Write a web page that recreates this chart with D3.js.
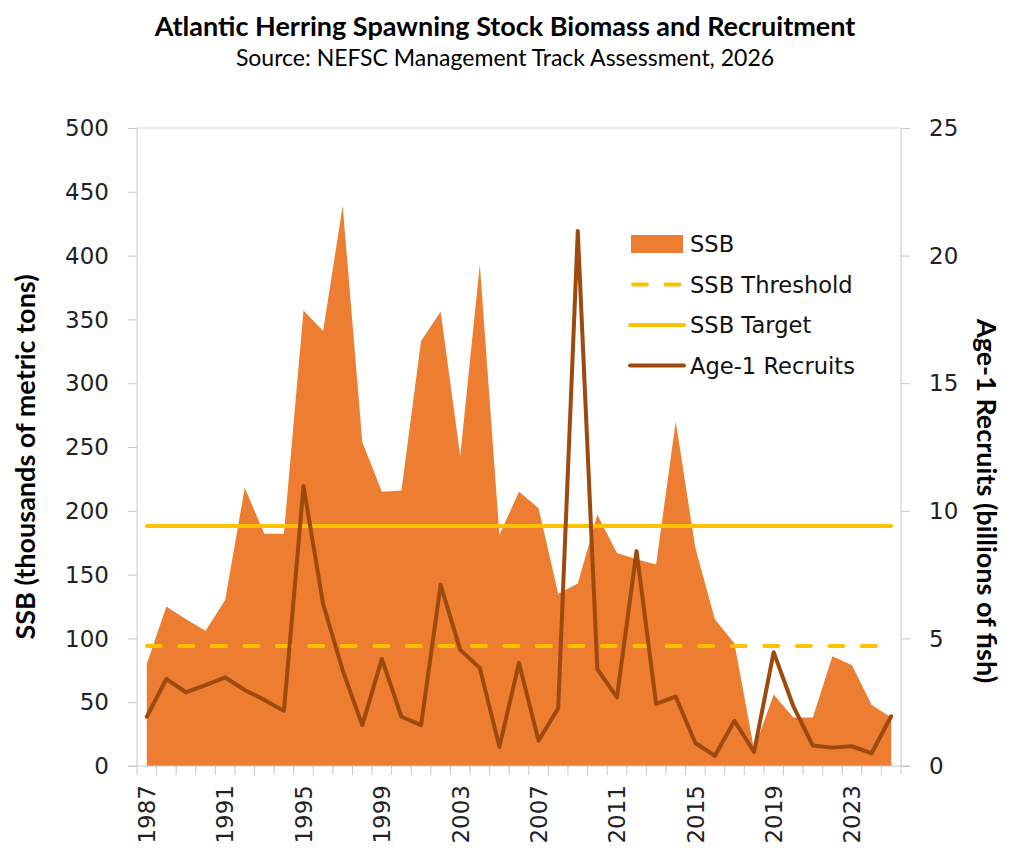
<!DOCTYPE html>
<html>
<head>
<meta charset="utf-8">
<script src="https://cdn.jsdelivr.net/npm/d3@7"></script>
<style>
  body { margin: 0; background: #fff; }
  svg { display: block; }
  .axis path, .axis line { stroke: #c8c8c8; }
  .tickLabel { font-family: "DejaVu Sans", Verdana, sans-serif; font-size: 23px; fill: #222; }
  .legendText { font-family: "DejaVu Sans", Verdana, sans-serif; font-size: 22.6px; fill: #111; }
  .chartTitle { font-family: Lato, "Open Sans", sans-serif; font-weight: bold; font-size: 27px; fill: #000; }
  .chartSub { font-family: Lato, "Open Sans", sans-serif; font-size: 23px; fill: #000; }
  .axisTitle { font-family: Lato, "Open Sans", sans-serif; font-weight: bold; font-size: 27px; fill: #000; }
</style>
</head>
<body>
<script>
(function(){

  //chart data
  var years = [1987, 1988, 1989, 1990, 1991, 1992, 1993, 1994, 1995, 1996,
               1997, 1998, 1999, 2000, 2001, 2002, 2003, 2004, 2005, 2006,
               2007, 2008, 2009, 2010, 2011, 2012, 2013, 2014, 2015, 2016,
               2017, 2018, 2019, 2020, 2021, 2022, 2023, 2024, 2025];
  //spawning stock biomass, thousands of metric tons
  var ssb = [80, 125, 115, 106, 130, 218, 182, 182, 357, 341,
             439, 254, 215, 216, 333, 356, 243, 393, 181, 215,
             202, 135, 143, 197, 167, 162, 158, 270, 171, 115,
             96, 13, 56, 38, 38, 86, 79, 48, 38];
  //age-1 recruits, billions of fish
  var recruits = [1.93, 3.41, 2.89, 3.17, 3.47, 2.98, 2.59, 2.16, 10.97, 6.35,
                  3.75, 1.6, 4.2, 1.93, 1.6, 7.1, 4.55, 3.84, 0.75, 4.04,
                  0.99, 2.26, 20.96, 3.8, 2.69, 8.42, 2.43, 2.72, 0.9, 0.4,
                  1.77, 0.55, 4.46, 2.35, 0.8, 0.72, 0.77, 0.5, 1.95];
  var ssbThreshold = 94;
  var ssbTarget = 188;
  var xTickYears = [1987, 1991, 1995, 1999, 2003, 2007, 2011, 2015, 2019, 2023];
  var leftTicks = [0, 50, 100, 150, 200, 250, 300, 350, 400, 450, 500];
  var rightTicks = [0, 5, 10, 15, 20, 25];
  var legendLabels = ["SSB", "SSB Threshold", "SSB Target", "Age-1 Recruits"];

  var width = 1013, height = 858;
  var left = 137, right = 901, top = 128, bottom = 766;

  var svg = d3.select("body").append("svg")
    .attr("width", width)
    .attr("height", height);

  //scales
  var x = d3.scaleBand().domain(years).range([left, right]).padding(0);
  var cx = function(yr){ return x(yr) + x.bandwidth() / 2; };
  var yL = d3.scaleLinear().domain([0, 500]).range([bottom, top]);
  var yR = d3.scaleLinear().domain([0, 25]).range([bottom, top]);

  var rows = years.map(function(yr, i){
    return { year: yr, ssb: ssb[i], rec: recruits[i] };
  });

  //top border of plot area
  svg.append("line")
    .attr("x1", left).attr("x2", right)
    .attr("y1", yL(500)).attr("y2", yL(500))
    .attr("stroke", "#d9d9d9").attr("stroke-width", 1);

  //SSB area
  var area = d3.area()
    .x(function(d){ return cx(d.year); })
    .y0(yL(0))
    .y1(function(d){ return yL(d.ssb); });
  svg.append("path")
    .datum(rows)
    .attr("d", area)
    .attr("fill", "#ED7D31");

  //reference lines
  var x0 = cx(years[0]), x1 = cx(years[years.length - 1]);
  svg.append("line")
    .attr("x1", x0).attr("x2", x1)
    .attr("y1", yL(ssbThreshold)).attr("y2", yL(ssbThreshold))
    .attr("stroke", "#FFC000").attr("stroke-width", 4)
    .attr("stroke-linecap", "round")
    .attr("stroke-dasharray", "14,18.5");
  svg.append("line")
    .attr("x1", x0).attr("x2", x1)
    .attr("y1", yL(ssbTarget)).attr("y2", yL(ssbTarget))
    .attr("stroke", "#FFC000").attr("stroke-width", 4)
    .attr("stroke-linecap", "round");

  //recruit line
  var recLine = d3.line()
    .x(function(d){ return cx(d.year); })
    .y(function(d){ return yR(d.rec); });
  svg.append("path")
    .datum(rows)
    .attr("d", recLine)
    .attr("fill", "none")
    .attr("stroke", "#9E4A0E")
    .attr("stroke-width", 4)
    .attr("stroke-linejoin", "round")
    .attr("stroke-linecap", "round");

  //left axis
  var leftAxis = svg.append("g")
    .attr("class", "axis")
    .attr("transform", "translate(" + left + ",0)")
    .call(d3.axisLeft(yL).tickValues(leftTicks).tickSize(9).tickPadding(0).tickFormat(""));
  leftAxis.select(".domain").attr("d", "M0," + top + "V" + bottom);
  svg.selectAll(".leftLab")
    .data(leftTicks).enter().append("text")
    .attr("class", "tickLabel")
    .attr("x", 109)
    .attr("y", function(d){ return yL(d); })
    .attr("dy", "0.36em")
    .attr("text-anchor", "end")
    .text(function(d){ return d; });

  //right axis
  var rightAxis = svg.append("g")
    .attr("class", "axis")
    .attr("transform", "translate(" + right + ",0)")
    .call(d3.axisRight(yR).tickValues(rightTicks).tickSize(9).tickFormat(""));
  rightAxis.select(".domain").attr("d", "M0," + top + "V" + bottom);
  svg.selectAll(".rightLab")
    .data(rightTicks).enter().append("text")
    .attr("class", "tickLabel")
    .attr("x", 929)
    .attr("y", function(d){ return yR(d); })
    .attr("dy", "0.36em")
    .attr("text-anchor", "start")
    .text(function(d){ return d; });

  //bottom axis, ticks between categories
  var bAxis = svg.append("g").attr("class", "axis");
  bAxis.append("line")
    .attr("x1", left - 9).attr("x2", right + 9)
    .attr("y1", bottom).attr("y2", bottom)
    .attr("stroke", "#c8c8c8");
  bAxis.selectAll(".xtick")
    .data(years.concat(["end"])).enter().append("line")
    .attr("x1", function(d){ return d === "end" ? right : x(d); })
    .attr("x2", function(d){ return d === "end" ? right : x(d); })
    .attr("y1", bottom).attr("y2", bottom + 9)
    .attr("stroke", "#c8c8c8");
  svg.selectAll(".xLab")
    .data(xTickYears).enter().append("text")
    .attr("class", "tickLabel")
    .attr("transform", function(d){
      return "translate(" + cx(d) + "," + 785 + ") rotate(-90)";
    })
    .attr("dy", "0.36em")
    .attr("text-anchor", "end")
    .text(function(d){ return d; });

  //titles
  svg.append("text")
    .attr("class", "chartTitle")
    .attr("x", 505).attr("y", 36)
    .attr("text-anchor", "middle")
    .text("Atlantic Herring Spawning Stock Biomass and Recruitment");
  svg.append("text")
    .attr("class", "chartSub")
    .attr("x", 505).attr("y", 66)
    .attr("text-anchor", "middle")
    .text("Source: NEFSC Management Track Assessment, 2026");

  svg.append("text")
    .attr("class", "axisTitle")
    .attr("transform", "translate(26,457) rotate(-90)")
    .attr("dy", "0.35em")
    .attr("text-anchor", "middle")
    .text("SSB (thousands of metric tons)");
  svg.append("text")
    .attr("class", "axisTitle")
    .attr("transform", "translate(986,501) rotate(90)")
    .attr("dy", "0.35em")
    .attr("text-anchor", "middle")
    .text("Age-1 Recruits (billions of fish)");

  //legend
  var legend = svg.append("g").attr("transform", "translate(630,244)");
  var items = legend.selectAll(".legendItem")
    .data(legendLabels).enter().append("g")
    .attr("transform", function(d, i){ return "translate(0," + i * 40.5 + ")"; });
  items.each(function(d, i){
    var g = d3.select(this);
    if (i === 0){
      g.append("rect").attr("x", 1).attr("y", -9).attr("width", 52).attr("height", 18)
        .attr("fill", "#ED7D31");
    } else {
      var ln = g.append("line").attr("x1", 0).attr("x2", 54).attr("y1", 0).attr("y2", 0)
        .attr("stroke-width", 4).attr("stroke-linecap", "round");
      if (i === 1) ln.attr("stroke", "#FFC000").attr("stroke-dasharray", "14,18.5").attr("x1", 3);
      if (i === 2) ln.attr("stroke", "#FFC000");
      if (i === 3) ln.attr("stroke", "#9E4A0E");
    }
    g.append("text").attr("class", "legendText")
      .attr("x", 60).attr("y", 0).attr("dy", "0.36em")
      .text(d);
  });

})();
</script>
</body>
</html>
